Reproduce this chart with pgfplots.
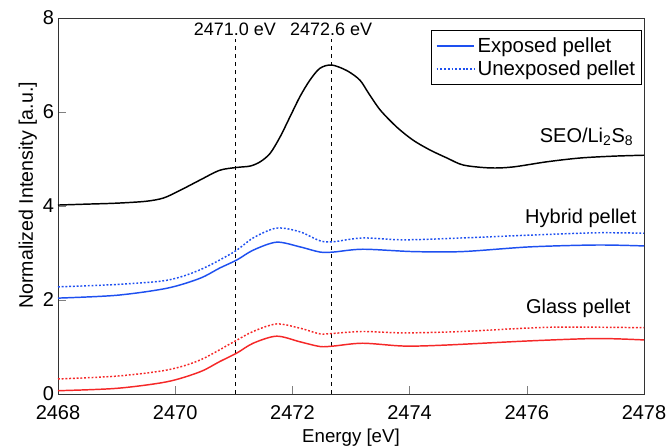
\documentclass[border=0pt]{standalone}
\usepackage{fontspec}
\setmainfont{Liberation Sans}
\usepackage{pgfplots}
\pgfplotsset{compat=1.18}
\usetikzlibrary{calc}

\definecolor{expblue}{RGB}{30,80,240}
\definecolor{expred}{RGB}{245,40,40}

\begin{document}
\begin{tikzpicture}
\begin{axis}[
    name=ax,
    scale only axis,
    width=439.5pt, height=282pt,
    xmin=2468, xmax=2478, ymin=0, ymax=8,
    xtick={2468,2470,...,2478},
    ytick={0,2,...,8},
    tick pos=left,
    tick align=inside,
    major tick length=6pt,
    /pgf/number format/1000 sep={},
    /pgf/number format/assume math mode=true,
    tick label style={font=\fontsize{15}{17}\selectfont},
    xticklabel style={yshift=-5.5pt},
    yticklabel style={xshift=0.5pt},
    xlabel={Energy [eV]},
    ylabel={Normalized Intensity [a.u.]},
    xlabel style={font=\fontsize{14}{16}\selectfont, yshift=0.5pt},
    ylabel style={font=\fontsize{14.7}{16}\selectfont, yshift=-2.5pt, xshift=8pt},
    axis line style={line width=0.7pt, black!80},
    legend style={at={(0.997,0.968)}, anchor=north east, draw=black, line width=0.6pt,
        font=\fontsize{15.3}{17}\selectfont, inner xsep=3pt, inner ysep=3.5pt, row sep=0.5pt,
        cells={anchor=west}},
    legend image post style={xscale=1.65},
    legend cell align=left,
    clip=false,
]
% legend entries
\addlegendimage{expblue, line width=1.1pt}
\addlegendentry{Exposed pellet}
\addlegendimage{expblue, line width=1.1pt, dash pattern=on 1.4pt off 1.4pt}
\addlegendentry{Unexposed pellet}

% reference energies
\addplot[black, dashed, line width=0.7pt, forget plot] coordinates {(2471.02,0) (2471.02,7.55)};
\addplot[black, dashed, line width=0.7pt, forget plot] coordinates {(2472.66,0) (2472.66,7.55)};

% SEO/Li2S8
\addplot[black, line width=1.1pt, smooth, tension=0.5, forget plot] coordinates {
(2468.0,4.02) (2468.5,4.04) (2469.0,4.06) (2469.5,4.10) (2469.8,4.17) (2470.08,4.33)
(2470.42,4.55) (2470.76,4.76) (2471.05,4.82) (2471.28,4.85) (2471.45,4.94) (2471.62,5.12)
(2471.79,5.47) (2471.96,5.90) (2472.13,6.33) (2472.30,6.68) (2472.47,6.93) (2472.67,7.00)
(2472.93,6.88) (2473.15,6.68) (2473.3,6.40) (2473.5,6.04)
(2473.78,5.68) (2474.06,5.40) (2474.35,5.19) (2474.64,5.02) (2474.92,4.87) (2475.37,4.81)
(2475.76,4.83) (2476.34,4.94) (2476.9,5.02) (2477.47,5.06) (2478.0,5.08)
};

% Hybrid pellet, exposed
\addplot[expblue, line width=1.1pt, smooth, tension=0.5, forget plot] coordinates {
(2468.0,2.04) (2469.0,2.10) (2469.86,2.25) (2470.42,2.46) (2470.76,2.68) (2471.05,2.85)
(2471.33,3.06) (2471.73,3.23) (2472.13,3.13) (2472.47,3.02) (2472.7,3.02) (2473.2,3.08)
(2474.06,3.03) (2474.9,3.03) (2476.05,3.13) (2477.2,3.17) (2478.0,3.15)
};
% Hybrid pellet, unexposed
\addplot[expblue, line width=1.1pt, dash pattern=on 1.4pt off 1.4pt, smooth, tension=0.5, forget plot] coordinates {
(2468.0,2.28) (2469.0,2.33) (2469.86,2.42) (2470.42,2.64) (2471.0,3.02) (2471.33,3.32)
(2471.73,3.53) (2472.13,3.45) (2472.47,3.26) (2472.7,3.24) (2473.2,3.32) (2473.9,3.28)
(2474.9,3.32) (2476.05,3.38) (2477.2,3.43) (2478.0,3.42)
};

% Glass pellet, exposed
\addplot[expred, line width=1.1pt, smooth, tension=0.5, forget plot] coordinates {
(2468.0,0.07) (2469.0,0.12) (2469.86,0.26) (2470.42,0.47) (2470.76,0.69) (2471.05,0.87)
(2471.33,1.08) (2471.73,1.23) (2472.13,1.11) (2472.47,1.01) (2472.7,1.02) (2473.2,1.08)
(2473.9,1.02) (2474.6,1.04) (2476.05,1.13) (2477.2,1.18) (2478.0,1.15)
};
% Glass pellet, unexposed
\addplot[expred, line width=1.1pt, dash pattern=on 1.4pt off 1.4pt, smooth, tension=0.5, forget plot] coordinates {
(2468.0,0.32) (2469.0,0.38) (2469.86,0.51) (2470.42,0.72) (2471.0,1.11) (2471.33,1.33)
(2471.73,1.49) (2472.13,1.40) (2472.47,1.28) (2472.7,1.29) (2473.2,1.33) (2473.9,1.30)
(2474.9,1.33) (2476.4,1.42) (2478.0,1.41)
};

\node[font=\fontsize{13.5}{15}\selectfont] at (axis cs:2471.02,7.76) {2471.0 eV};
\node[font=\fontsize{13.5}{15}\selectfont] at (axis cs:2472.66,7.76) {2472.6 eV};
\node[anchor=east, font=\fontsize{15}{17}\selectfont] at (axis cs:2477.9,5.47) {SEO/Li\textsubscript{2}S\textsubscript{8}};
\node[anchor=east, font=\fontsize{15}{17}\selectfont] at (axis cs:2477.95,3.74) {Hybrid pellet};
\node[anchor=east, font=\fontsize{15}{17}\selectfont] at (axis cs:2477.85,1.83) {Glass pellet};
\end{axis}
\pgfresetboundingbox
\useasboundingbox ($(ax.south west)+(-43.5pt,-39.75pt)$) rectangle ($(ax.north east)+(18pt,13.5pt)$);
\end{tikzpicture}
\end{document}
